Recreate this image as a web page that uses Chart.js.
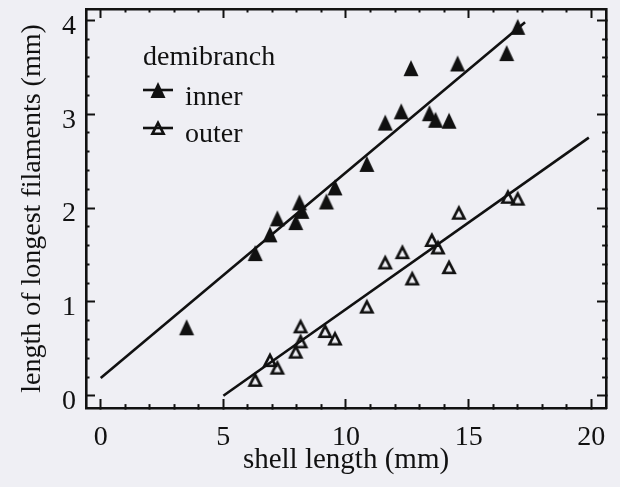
<!DOCTYPE html>
<html>
<head>
<meta charset="utf-8">
<script src="https://cdn.jsdelivr.net/npm/chart.js@4.4.0/dist/chart.umd.min.js"></script>
<style>
  html, body { margin: 0; padding: 0; background: #efeff4; }
  #lienzo { width: 620px; height: 487px; }
</style>
</head>
<body>
<div id="lienzo"><canvas id="grafico"></canvas></div>
<script>
// Datos (mm)
const largoInterna = [3.5, 6.3, 6.9, 7.2, 7.95, 8.1, 8.2, 9.2, 9.55, 10.85, 11.6, 12.25, 12.65, 13.4, 13.65, 14.2, 14.55, 16.55, 17.0];
const filamentoInterna = [0.73, 1.52, 1.72, 1.89, 1.85, 2.06, 1.97, 2.07, 2.22, 2.47, 2.91, 3.03, 3.49, 3.01, 2.94, 2.93, 3.54, 3.65, 3.93];
const largoExterna = [6.3, 6.9, 7.2, 7.95, 8.15, 8.15, 9.15, 9.55, 10.85, 11.6, 12.3, 12.7, 13.5, 13.75, 14.2, 14.6, 16.6, 17.0];
const filamentoExterna = [0.17, 0.38, 0.30, 0.47, 0.58, 0.74, 0.69, 0.61, 0.95, 1.42, 1.53, 1.25, 1.66, 1.58, 1.37, 1.95, 2.12, 2.10];
// rectas de regresion (extremos)
const rectaInternaX = [0, 17.3];
const rectaInternaY = [0.19, 3.98];
const rectaExternaX = [5, 19.9];
const rectaExternaY = [0, 2.75];
// marcas con etiqueta
const ticksX = [0, 5, 10, 15, 20];
const ticksY = [0, 1, 2, 3, 4];

const tinta = '#111';
const fuente = '"Liberation Serif", "Times New Roman", serif';

const puntos = (xs, ys) => xs.map((x, i) => ({ x: x, y: ys[i] }));

// triangulos de los marcadores
function triangulo(relleno) {
  const c = document.createElement('canvas');
  c.width = 18; c.height = 18;
  const g = c.getContext('2d');
  g.beginPath();
  if (relleno) {
    g.moveTo(9, 1); g.lineTo(16.5, 17); g.lineTo(1.5, 17);
    g.closePath();
    g.fillStyle = tinta; g.fill();
  } else {
    g.moveTo(9, 3.8); g.lineTo(14.6, 14.8); g.lineTo(3.4, 14.8);
    g.closePath();
    g.lineWidth = 2.6; g.strokeStyle = tinta; g.stroke();
  }
  return c;
}
const trianguloLleno = triangulo(true);
const trianguloVacio = triangulo(false);

// marcas hacia dentro: mayores largas, menores cortas
function rejilla(mayores, empiezaDentro) {
  return {
    drawOnChartArea: false,
    drawTicks: true,
    tickLength: -9,
    tickWidth: 2,
    tickColor: tinta,
    tickBorderDash: ctx => {
      const v = ctx.tick ? ctx.tick.value : 0;
      if (mayores.some(m => Math.abs(m - v) < 1e-6)) return [];
      return empiezaDentro ? [0, 5.5, 100] : [5.5, 100];
    }
  };
}
const borde = { display: true, color: tinta, width: 2.6 };

// tamano fijo de cada eje, sin el relleno extra de las etiquetas
function fijar(ancho, alto) {
  return s => {
    if (ancho !== null) s.width = ancho;
    if (alto !== null) s.height = alto;
    s.paddingLeft = 0; s.paddingRight = 0; s.paddingTop = 0; s.paddingBottom = 0;
  };
}

// leyenda dentro del area
const leyenda = {
  id: 'leyenda',
  afterDatasetsDraw(chart) {
    const ctx = chart.ctx;
    ctx.save();
    ctx.fillStyle = tinta;
    ctx.strokeStyle = tinta;
    ctx.font = '28px ' + fuente;
    ctx.textBaseline = 'alphabetic';
    ctx.fillText('demibranch', 143, 65);
    [['inner', trianguloLleno, 90, 105], ['outer', trianguloVacio, 128, 142]].forEach(e => {
      ctx.lineWidth = 2.6;
      ctx.beginPath();
      ctx.moveTo(143, e[2]); ctx.lineTo(173, e[2]);
      ctx.stroke();
      ctx.drawImage(e[1], 158 - 9, e[2] - 9);
      ctx.fillText(e[0], 185, e[3]);
    });
    ctx.restore();
  }
};

new Chart(document.getElementById('grafico'), {
  type: 'scatter',
  data: {
    datasets: [
      { label: 'inner', data: puntos(largoInterna, filamentoInterna), pointStyle: trianguloLleno, pointRadius: 8 },
      { label: 'outer', data: puntos(largoExterna, filamentoExterna), pointStyle: trianguloVacio, pointRadius: 8 },
      { label: 'ajuste inner', data: puntos(rectaInternaX, rectaInternaY), showLine: true, pointRadius: 0, borderColor: tinta, borderWidth: 2.6 },
      { label: 'ajuste outer', data: puntos(rectaExternaX, rectaExternaY), showLine: true, pointRadius: 0, borderColor: tinta, borderWidth: 2.6 }
    ]
  },
  options: {
    responsive: true,
    maintainAspectRatio: false,
    animation: false,
    layout: { padding: 0 },
    plugins: {
      legend: { display: false },
      tooltip: { enabled: false }
    },
    scales: {
      x: {
        type: 'linear', position: 'bottom', min: -0.6, max: 20.6,
        ticks: {
          stepSize: 1, autoSkip: false, includeBounds: false, maxRotation: 0, padding: 22,
          color: tinta, font: { family: fuente, size: 28 },
          callback: v => ticksX.includes(v) ? String(v) : ''
        },
        grid: rejilla(ticksX, false),
        border: borde,
        title: { display: true, text: 'shell length (mm)', color: tinta, font: { family: fuente, size: 29 }, padding: { top: 0, bottom: 9 } },
        afterFit: fijar(null, 79)
      },
      x2: {
        type: 'linear', axis: 'x', position: 'top', min: -0.6, max: 20.6,
        ticks: { display: false, stepSize: 1, autoSkip: false, includeBounds: false },
        grid: rejilla(ticksX, true),
        border: borde,
        afterFit: fijar(null, 7)
      },
      y: {
        type: 'linear', position: 'left', min: -0.13, max: 4.12,
        ticks: {
          stepSize: 0.2, autoSkip: false, includeBounds: false, padding: 19, labelOffset: 6,
          color: tinta, font: { family: fuente, size: 28 },
          callback: v => ticksY.some(t => Math.abs(t - v) < 1e-6) ? String(Math.round(v)) : ''
        },
        grid: rejilla(ticksY, true),
        border: borde,
        title: { display: true, text: 'length of longest filaments (mm)', color: tinta, font: { family: fuente, size: 28 }, padding: { top: 16, bottom: 0 } },
        afterFit: fijar(86, null)
      },
      y2: {
        type: 'linear', axis: 'y', position: 'right', min: -0.13, max: 4.12,
        ticks: { display: false, stepSize: 0.2, autoSkip: false, includeBounds: false },
        grid: rejilla(ticksY, false),
        border: borde,
        afterFit: fijar(14, null)
      }
    }
  },
  plugins: [leyenda]
});
</script>
</body>
</html>
